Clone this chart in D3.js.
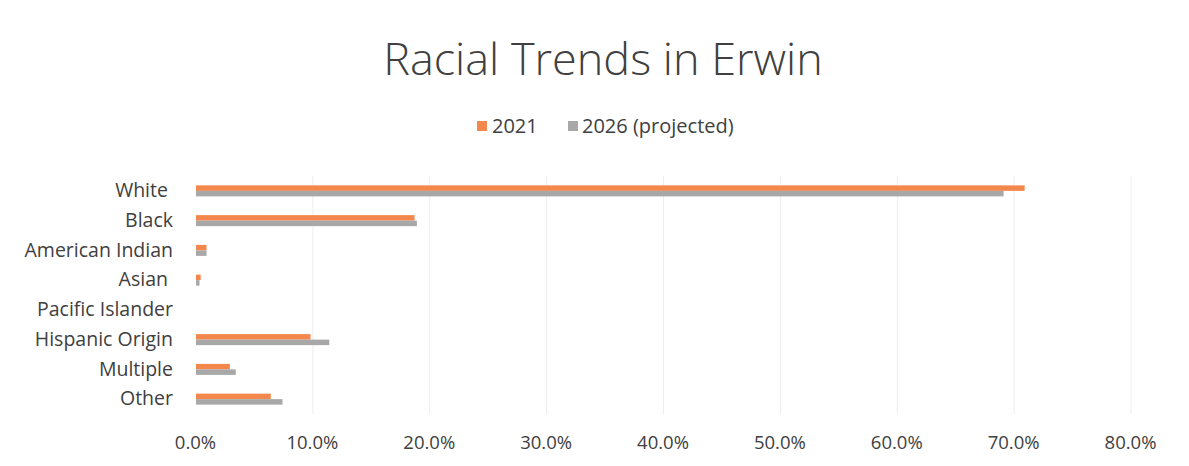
<!DOCTYPE html>
<html><head><meta charset="utf-8">
<script src="https://cdn.jsdelivr.net/npm/d3@7"></script>
<style>body{margin:0;background:#fff}svg{display:block}</style>
</head><body>
<svg id="c" width="1189" height="466"></svg>
<script>
const categories = ["White ","Black","American Indian","Asian ","Pacific Islander","Hispanic Origin","Multiple","Other"];
const series2021 = [70.9, 18.7, 0.9, 0.4, 0.0, 9.8, 2.9, 6.4];
const series2026 = [69.1, 18.9, 0.9, 0.3, 0.0, 11.4, 3.4, 7.4];
const seriesNames = ["2021", "2026 (projected)"];
const xTicks = [0,10,20,30,40,50,60,70,80];

const svg = d3.select("#c");
const W = 1189, H = 466;
const m = {left:196, right:58, top:176, bottom:52};
const x = d3.scaleLinear().domain([0,80]).range([m.left, W-m.right]);
const y = d3.scaleBand().domain(categories).range([m.top, H-m.bottom]);
const colors = ["#F4874B", "#A8A8A8"];
const font = "'Open Sans', 'Noto Sans', sans-serif";
const textColor = "#404040";

// gridlines
svg.append("g").selectAll("line").data(xTicks.slice(1)).join("line")
  .attr("x1", d=>x(d)).attr("x2", d=>x(d))
  .attr("y1", m.top).attr("y2", H-m.bottom)
  .attr("stroke", "#ededed").attr("stroke-width", 1);

// bars
const barH = 5.5;
const data = [series2021, series2026];
data.forEach((s, si) => {
  svg.append("g").selectAll("rect").data(s).join("rect")
    .attr("x", x(0))
    .attr("y", (d,i) => y(categories[i]) + y.bandwidth()/2 - barH + si*barH)
    .attr("width", d => x(d) - x(0))
    .attr("height", barH)
    .attr("fill", colors[si]);
});

// x axis
const xAxis = d3.axisBottom(x).tickValues(xTicks).tickFormat(d => d.toFixed(1) + "%").tickSize(0);
const gx = svg.append("g").attr("transform", `translate(-1,433)`).call(xAxis);
gx.select(".domain").remove();
gx.selectAll("text").attr("fill", textColor).style("font-family", font).style("font-size", "18.5px");

// y axis
const yAxis = d3.axisLeft(y).tickSize(0).tickPadding(23);
const gy = svg.append("g").attr("transform", `translate(${m.left},0)`).call(yAxis);
gy.select(".domain").remove();
gy.selectAll("text").attr("fill", textColor).style("font-family", font).style("font-size", "19.5px")
  .attr("xml:space","preserve").style("white-space","pre");

// title
svg.append("text").attr("x", 603).attr("y", 75).attr("text-anchor", "middle")
  .attr("fill", textColor).style("font-family", font).style("font-weight", 300).style("font-size", "45px")
  .text("Racial Trends in Erwin");

// legend
const legendItems = [{x:477, tx:492, name:seriesNames[0], c:colors[0]}, {x:568, tx:582, name:seriesNames[1], c:colors[1]}];
const lg = svg.append("g");
legendItems.forEach(it => {
  lg.append("rect").attr("x", it.x).attr("y", 121).attr("width", 10).attr("height", 10).attr("fill", it.c);
  lg.append("text").attr("x", it.tx).attr("y", 133).attr("fill", textColor)
    .style("font-family", font).style("font-size", "20px").text(it.name);
});
</script>
</body></html>
